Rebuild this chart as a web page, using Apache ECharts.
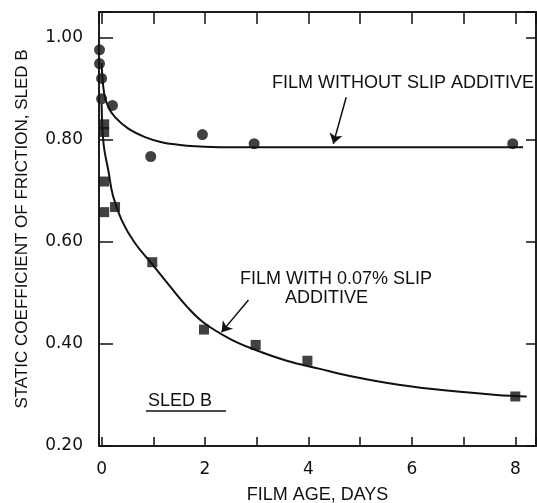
<!DOCTYPE html>
<html>
<head>
<meta charset="utf-8">
<script src="https://cdn.jsdelivr.net/npm/echarts@6/dist/echarts.min.js"></script>
<style>
  html, body { margin: 0; padding: 0; background: #fff; }
  #chart { width: 537px; height: 503px; }
</style>
</head>
<body>
<div id="chart"></div>
<script>
// measured points, [days, coefficient]
var noSlipPoints = [[-0.04, 0.976], [-0.04, 0.949], [0.0, 0.92], [0.0, 0.88], [0.21, 0.867],
  [0.95, 0.767], [1.95, 0.81], [2.95, 0.792], [7.95, 0.792]];
var slipPoints = [[0.05, 0.83], [0.05, 0.815], [0.05, 0.718], [0.05, 0.658], [0.26, 0.668],
  [0.98, 0.56], [1.98, 0.428], [2.98, 0.398], [3.98, 0.367], [8.0, 0.297]];

// hand drawn curves
var noSlipCurve = [[0.0, 0.95], [0.05, 0.89], [0.13, 0.864], [0.26, 0.844], [0.51, 0.822],
  [0.84, 0.805], [1.16, 0.795], [1.48, 0.79], [1.8, 0.787], [2.4, 0.785], [8.15, 0.785]];
var slipCurve = [[0.0, 0.87], [0.04, 0.79], [0.13, 0.74], [0.22, 0.69], [0.39, 0.642],
  [0.64, 0.598], [0.97, 0.557], [1.32, 0.513], [1.65, 0.473], [1.97, 0.442], [2.48, 0.41],
  [2.93, 0.39], [3.58, 0.367], [4.22, 0.351], [4.8, 0.337], [5.5, 0.324], [6.35, 0.312],
  [7.64, 0.30], [8.22, 0.297]];

// arrows: [from, to]
var noSlipArrow = [[4.73, 0.883], [4.48, 0.792]];
var slipArrow = [[2.84, 0.486], [2.32, 0.423]];

var xTicks = [0, 2, 4, 6, 8];
var yTicks = [0.2, 0.4, 0.6, 0.8, 1.0];

var font = 'Liberation Sans';
var ink = '#111';

var chart = echarts.init(document.getElementById('chart'));

function xLabel(v) {
  for (var i = 0; i < xTicks.length; i++) {
    if (Math.abs(v - xTicks[i]) < 1e-6) return String(xTicks[i]);
  }
  return '';
}
function yLabel(v) {
  for (var i = 0; i < yTicks.length; i++) {
    if (Math.abs(v - yTicks[i]) < 1e-6) return yTicks[i].toFixed(2);
  }
  return '';
}

var option = {
  backgroundColor: '#fff',
  animation: false,
  grid: {
    left: 99, right: 1, top: 12, bottom: 57,
    outerBoundsMode: 'none', containLabel: false,
    show: true, borderColor: ink, borderWidth: 1.5, backgroundColor: 'transparent'
  },
  xAxis: [
    {
      type: 'value', min: -0.05, max: 8.4, splitNumber: 8,
      name: 'FILM AGE, DAYS', nameLocation: 'middle', nameGap: 40,
      nameTextStyle: { fontFamily: font, fontSize: 18, color: ink },
      axisLine: { onZero: false, lineStyle: { color: ink, width: 1.5 } },
      axisTick: { inside: true, length: 9, lineStyle: { color: ink, width: 1.5 } },
      axisLabel: { formatter: xLabel, margin: 15, fontFamily: 'DejaVu Sans', fontSize: 17, color: ink,
        showMinLabel: true, showMaxLabel: true },
      splitLine: { show: false }
    },
    {
      type: 'value', position: 'top', min: -0.05, max: 8.4, splitNumber: 8,
      axisLine: { onZero: false, lineStyle: { color: ink, width: 1.5 } },
      axisTick: { inside: true, length: 12, lineStyle: { color: ink, width: 1.5 } },
      axisLabel: { show: false },
      splitLine: { show: false }
    }
  ],
  yAxis: [
    {
      type: 'value', min: 0.2, max: 1.05, interval: 0.2,
      name: 'STATIC COEFFICIENT OF FRICTION, SLED B', nameLocation: 'middle', nameGap: 68,
      nameTextStyle: { fontFamily: font, fontSize: 17, color: ink },
      axisLine: { onZero: false, lineStyle: { color: ink, width: 1.5 } },
      axisTick: { inside: true, length: 14, lineStyle: { color: ink, width: 1.5 } },
      axisLabel: { formatter: yLabel, margin: 16, fontFamily: 'DejaVu Sans', fontSize: 17, color: ink },
      splitLine: { show: false }
    },
    {
      type: 'value', position: 'right', min: 0.2, max: 1.05, interval: 0.2,
      axisLine: { onZero: false, lineStyle: { color: ink, width: 1.5 } },
      axisTick: { inside: true, length: 10, lineStyle: { color: ink, width: 1.5 } },
      axisLabel: { show: false },
      splitLine: { show: false }
    }
  ],
  series: [
    {
      name: 'without slip curve', type: 'line', data: noSlipCurve,
      smooth: 0.4, showSymbol: false, z: 2,
      lineStyle: { color: ink, width: 2 },
      markLine: {
        silent: true, symbol: ['none', 'arrow'], symbolSize: 10,
        label: { show: false },
        lineStyle: { color: ink, width: 1.5, type: 'solid' },
        data: [[{ coord: noSlipArrow[0] }, { coord: noSlipArrow[1] }]]
      }
    },
    {
      name: 'with slip curve', type: 'line', data: slipCurve,
      smooth: 0.4, showSymbol: false, z: 2,
      lineStyle: { color: ink, width: 2 },
      markLine: {
        silent: true, symbol: ['none', 'arrow'], symbolSize: 10,
        label: { show: false },
        lineStyle: { color: ink, width: 1.5, type: 'solid' },
        data: [[{ coord: slipArrow[0] }, { coord: slipArrow[1] }]]
      }
    },
    {
      name: 'film without slip additive', type: 'scatter', data: noSlipPoints,
      symbol: 'circle', symbolSize: 11, z: 3,
      itemStyle: { color: ink }
    },
    {
      name: 'film with 0.07% slip additive', type: 'scatter', data: slipPoints,
      symbol: 'rect', symbolSize: 10, z: 3,
      itemStyle: { color: ink }
    }
  ],
  graphic: [
    { type: 'text', left: 272, top: 74,
      style: { text: 'FILM WITHOUT SLIP ADDITIVE', font: '18px "Liberation Sans"', fill: ink } },
    { type: 'text', left: 240, top: 270,
      style: { text: 'FILM WITH 0.07% SLIP', font: '18px "Liberation Sans"', fill: ink } },
    { type: 'text', left: 285, top: 289,
      style: { text: 'ADDITIVE', font: '18px "Liberation Sans"', fill: ink } },
    { type: 'text', left: 148, top: 392,
      style: { text: 'SLED B', font: '18px "Liberation Sans"', fill: ink } },
    { type: 'line', shape: { x1: 146, y1: 411, x2: 226, y2: 411 },
      style: { stroke: ink, lineWidth: 1.5 } }
  ]
};

chart.setOption(option);
</script>
</body>
</html>
